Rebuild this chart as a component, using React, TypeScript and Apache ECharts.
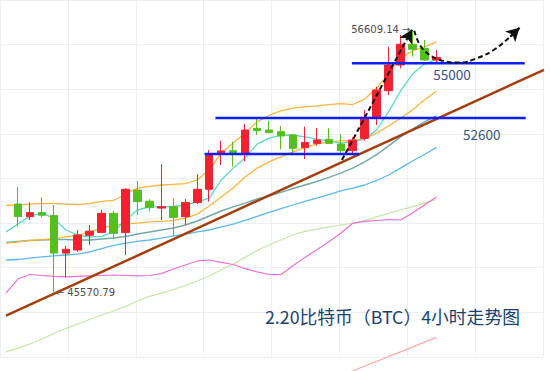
import { useEffect, useRef } from 'react';
import * as echarts from 'echarts';

// ---- data ----
// category 0 is the candle just before the visible window (only its MA values are known)
const categories = Array.from({ length: 46 }, (_, i) => `4H-${i}`);

const opens = [49280, 48750, 48920, 48800, 47220, 47350, 47970, 48090, 48890, 48080, 49870, 49400, 49110, 49170, 48750, 49340, 49900, 51380, 51520, 51410, 52460, 52390, 52320, 52180, 51650, 51830, 52000, 51800, 51520, 52040, 52920, 54040, 55120, 55990, 55820, 55330];
const closes = [48750, 48920, 48810, 47220, 47380, 47980, 48140, 48890, 48050, 49900, 49380, 49130, 49170, 48720, 49350, 49900, 51370, 51510, 51400, 52390, 52360, 52280, 52140, 51620, 51860, 51970, 51830, 51520, 51970, 52920, 54070, 55120, 55990, 55780, 55330, 55440];
const lows = [48330, 48610, 48720, 45570.79, 46200, 47270, 47560, 48080, 47810, 47140, 48820, 48970, 48610, 47950, 48400, 49280, 49380, 50920, 50850, 51060, 52180, 52250, 51580, 51410, 51170, 51730, 51800, 51340, 51410, 51940, 52600, 53860, 54980, 55470, 55290, 55220];
const highs = [50010, 49350, 49560, 49240, 47520, 48190, 48400, 49030, 49000, 49940, 50250, 49480, 50950, 49520, 49490, 50540, 51550, 51940, 51900, 52640, 52880, 52780, 52560, 52190, 52530, 52460, 52460, 52220, 52080, 53230, 54210, 55890, 56380, 56609.14, 56170, 55750];

const maTeal = [48110, 48440, 48780, 48900, 48690, 48190, 47980, 47900, 47920, 48110, 48610, 49030, 49160, 49160, 49180, 49240, 49370, 49530, 50290, 50790, 51210, 51800, 52050, 52160, 52180, 52100, 52010, 51930, 51840, 51890, 52010, 52390, 53150, 54030, 54740, 55160, 55370];
const maOrangeUpper = [49220, 49240, 49280, 49300, 49300, 49280, 49260, 49300, 49390, 49430, 49700, 49950, 50020, 50080, 50110, 50140, 50290, 50710, 51420, 51840, 52260, 52730, 53000, 53190, 53310, 53360, 53400, 53460, 53500, 53460, 53690, 54150, 54740, 55410, 55710, 55880, 56090];
const maOrangeLower = [47640, 47690, 47750, 47790, 47830, 47900, 47960, 48110, 48270, 48400, 48440, 48480, 48530, 48550, 48590, 48690, 48860, 49200, 49580, 49950, 50420, 50790, 51050, 51260, 51470, 51660, 51800, 51890, 51930, 51950, 52030, 52260, 52560, 52890, 53230, 53650, 54030];
const maGrey = [47670, 47710, 47750, 47770, 47790, 47790, 47770, 47770, 47810, 47850, 47920, 48020, 48110, 48190, 48270, 48400, 48570, 48780, 48990, 49160, 49320, 49490, 49620, 49770, 49930, 50080, 50230, 50400, 50580, 50790, 51050, 51360, 51720, 52100, 52430, 52730, 52980];
const maBlue = [46930, 46950, 47010, 47060, 47100, 47140, 47180, 47270, 47410, 47540, 47640, 47710, 47770, 47850, 47940, 48020, 48110, 48190, 48320, 48440, 48590, 48760, 48930, 49090, 49240, 49390, 49530, 49680, 49830, 49950, 50080, 50270, 50500, 50790, 51090, 51360, 51660];
const maPink = [45540, 46130, 46320, 46280, 46240, 46220, 46240, 46260, 46280, 46300, 46280, 46260, 46280, 46360, 46550, 46720, 46890, 46930, 46830, 46740, 46570, 46430, 46320, 46320, 46690, 47040, 47360, 47700, 48050, 48470, 48550, 48590, 48630, 48610, 48900, 49240, 49580];
const maLightGreen = [43070, 43230, 43400, 43610, 43840, 44050, 44240, 44430, 44620, 44790, 44980, 45210, 45400, 45540, 45690, 45860, 46050, 46260, 46510, 46760, 47040, 47330, 47560, 47770, 47980, 48130, 48230, 48320, 48400, 48480, 48590, 48740, 48890, 49030, 49170, 49320, 49470];
const maSalmonStart = 27;
const maSalmonTail = [41870, 42060, 42270, 42480, 42670, 42880, 43070, 43270, 43480, 43680];

// trend line and annotation drawings, as [position index, price]
const trendLine = [[0, 44590], [45, 54920]];
const levelLow = [[16.61, 51380], [29.55, 51380]];
const levelMid = [[17.52, 52890], [43.47, 52890]];
const levelHigh = [[28.93, 55190], [43.39, 55190]];
const levelLabels = ['55000', '52600'];
const levelLabelPos = [[37.3, 55190], [39.8, 52890]];
const arrowUp = [[28.1, 51130], [33.95, 56600]];
const arrowCurve = [[34.15, 56560], [34.93, 55750], [36.84, 55260], [37.96, 55220], [39.37, 55400], [40.78, 55750], [42.18, 56310], [42.95, 56680]];
const highMark = { index: 34, value: 56609.14 };
const lowMark = { index: 4, value: 45570.79 };
const titleText = '2.20比特币（BTC）4小时走势图';

// ---- layout ----
const BAND = 12.45;
const NCAT = categories.length;
const GRID_LEFT = -12.37;
const Y_MIN = 42268;
const Y_MAX = 57850;

const RED = '#ef2231';
const GREEN = '#55bf1f';

const candleData: any[] = [['-', '-', '-', '-']].concat(
  opens.map((o, i) => [o, closes[i], lows[i], highs[i]]) as any
);

const maLine = (name: string, data: any[], color: string, width = 1.2) => ({
  name,
  type: 'line',
  xAxisIndex: 0,
  yAxisIndex: 0,
  data,
  symbol: 'none',
  smooth: false,
  z: 3,
  silent: true,
  lineStyle: { color, width },
});

const levelSeries = (name: string, data: number[][], labelIdx: number | null, dist: number) => ({
  name,
  type: 'line',
  xAxisIndex: 1,
  yAxisIndex: 0,
  data,
  symbol: 'none',
  z: 5,
  silent: true,
  lineStyle: { color: '#0b1ff2', width: 2.5 },
  markPoint:
    labelIdx === null
      ? undefined
      : {
          symbol: 'circle',
          symbolSize: 0,
          silent: true,
          data: [
            {
              coord: levelLabelPos[labelIdx],
              label: {
                show: true,
                position: 'bottom',
                distance: dist,
                formatter: levelLabels[labelIdx],
                color: '#35557f',
                fontSize: 13.5,
                fontFamily: 'Noto Sans CJK SC',
              },
            },
          ],
        },
});

const smallLabel = { color: '#4d4d4d', fontSize: 10, fontFamily: 'DejaVu Sans' };

const option: any = {
  animation: false,
  backgroundColor: '#ffffff',
  title: {
    text: titleText,
    left: 260,
    top: 302,
    textStyle: { fontSize: 17.8, color: '#213f6c', fontWeight: 'normal', fontFamily: 'Noto Sans CJK SC' },
  },
  grid: [
    { left: GRID_LEFT, top: 0, width: BAND * NCAT, height: 371 },
    { left: -57, top: 0, width: 600, height: 356.8 },
  ],
  xAxis: [
    { type: 'category', data: categories, gridIndex: 0, show: false, boundaryGap: true },
    { type: 'value', gridIndex: 0, min: -0.5, max: NCAT - 0.5, show: false },
    {
      type: 'value', gridIndex: 1, min: 0, max: 8, interval: 1,
      axisLine: { show: false }, axisTick: { show: false }, axisLabel: { show: false },
      splitLine: { show: true, lineStyle: { color: '#ecf0f6', width: 1 } },
    },
  ],
  yAxis: [
    { type: 'value', gridIndex: 0, min: Y_MIN, max: Y_MAX, show: false, splitLine: { show: false } },
    {
      type: 'value', gridIndex: 1, min: 0, max: 8, interval: 1,
      axisLine: { show: false }, axisTick: { show: false }, axisLabel: { show: false },
      splitLine: { show: true, lineStyle: { color: '#ecf0f6', width: 1 } },
    },
  ],
  series: [
    maLine('MA-lightgreen', maLightGreen, '#c6e5a6'),
    maLine('MA-salmon', Array(maSalmonStart).fill('-').concat(maSalmonTail), '#f6aaa8'),
    maLine('MA-pink', maPink, '#ee6fd6'),
    maLine('MA-blue', maBlue, '#5db8ea', 1.3),
    maLine('MA-grey', maGrey, '#72a9a8', 1.5),
    maLine('MA-orange-lower', maOrangeLower, '#fbb53f', 1.3),
    maLine('MA-orange-upper', maOrangeUpper, '#fbb53f', 1.3),
    maLine('MA-teal', maTeal, '#5fd6c1', 1.3),
    {
      name: 'BTC',
      type: 'candlestick',
      xAxisIndex: 0,
      yAxisIndex: 0,
      data: candleData,
      barWidth: 8,
      z: 4,
      silent: true,
      itemStyle: { color: RED, color0: GREEN, borderColor: RED, borderColor0: GREEN, borderWidth: 1 },
      markPoint: {
        symbol: 'circle',
        symbolSize: 0,
        silent: true,
        data: [
          {
            coord: [highMark.index, highMark.value],
            label: { show: true, position: 'left', distance: 2, formatter: `${highMark.value} →`, ...smallLabel },
          },
          {
            coord: [lowMark.index, lowMark.value],
            label: { show: true, position: 'right', distance: 2, formatter: `← ${lowMark.value}`, ...smallLabel },
          },
        ],
      },
    },
    {
      name: 'trend',
      type: 'line',
      xAxisIndex: 1,
      yAxisIndex: 0,
      data: trendLine,
      symbol: 'none',
      z: 5,
      silent: true,
      lineStyle: { color: '#a3400f', width: 2.5 },
    },
    levelSeries('level-low', levelLow, null, 0),
    levelSeries('level-mid', levelMid, 1, 9),
    levelSeries('level-high', levelHigh, 0, 4),
    {
      name: 'forecast',
      type: 'line',
      xAxisIndex: 1,
      yAxisIndex: 0,
      data: arrowCurve,
      smooth: 0.4,
      symbol: 'none',
      z: 6,
      silent: true,
      lineStyle: { color: '#111', width: 2, type: [5, 3] },
      markLine: {
        silent: true,
        symbol: ['none', 'arrow'],
        symbolSize: [11, 13],
        label: { show: false },
        lineStyle: { color: '#111', width: 2, type: [5, 3] },
        data: [
          [{ coord: arrowUp[0] }, { coord: arrowUp[1] }],
          [{ coord: arrowCurve[arrowCurve.length - 2] }, { coord: arrowCurve[arrowCurve.length - 1] }],
        ],
      },
    },
  ],
};

export default function App() {
  const ref = useRef<HTMLDivElement>(null);
  useEffect(() => {
    const chart = echarts.init(ref.current!, null, { renderer: 'svg' });
    chart.setOption(option);
    return () => chart.dispose();
  }, []);
  return (
    <div
      ref={ref}
      style={{ width: 550, height: 371, position: 'absolute', left: 0, top: 0, background: '#fff' }}
    />
  );
}
